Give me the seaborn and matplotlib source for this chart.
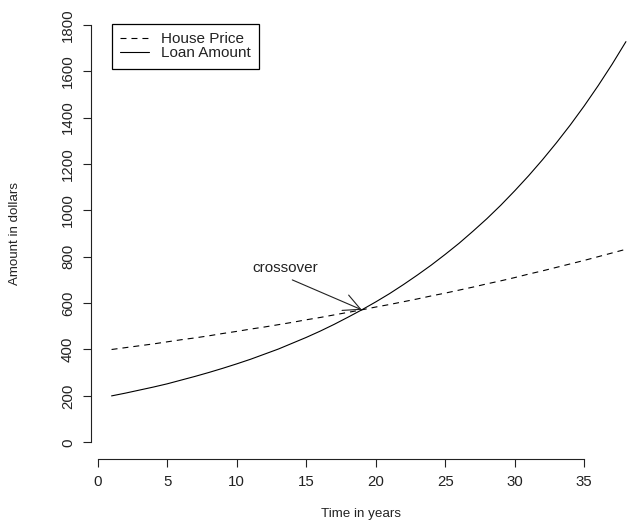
import matplotlib
matplotlib.use("Agg")
import matplotlib.pyplot as plt
import seaborn as sns
import pandas as pd
from matplotlib.lines import Line2D

years = list(range(1, 39))
house_price = [400, 408, 416, 424, 433, 442, 450, 459, 469, 478, 488, 497, 507, 517,
               528, 538, 549, 560, 571, 583, 594, 606, 618, 631, 643, 656, 669, 683,
               696, 710, 725, 739, 754, 769, 784, 800, 816, 832]
loan_amount = [200, 212, 225, 238, 252, 268, 284, 301, 319, 338, 358, 380, 402, 427,
               452, 479, 508, 539, 571, 605, 641, 680, 721, 764, 810, 858, 910, 964,
               1022, 1084, 1149, 1218, 1291, 1368, 1450, 1537, 1629, 1727]
series_names = ["House Price", "Loan Amount"]
x_ticks = [0, 5, 10, 15, 20, 25, 30, 35]
y_ticks = [0, 200, 400, 600, 800, 1000, 1200, 1400, 1600, 1800]

df = pd.DataFrame({
    "t": years * 2,
    "amount": house_price + loan_amount,
    "series": [series_names[0]] * len(years) + [series_names[1]] * len(years),
})

sns.set_theme(style="white")
plt.rcParams["font.family"] = ["Liberation Sans", "DejaVu Sans"]
plt.rcParams["lines.scale_dashes"] = False

fig = plt.figure(figsize=(6.39, 5.21), dpi=100)
ax = fig.add_axes([91 / 639, (521 - 459) / 521, 548 / 639, (459 - 8) / 521])

dash_style = (4.3, 3.6)
sns.lineplot(data=df, x="t", y="amount", style="series",
             dashes={series_names[0]: dash_style, series_names[1]: ""},
             color="black", linewidth=0.8, ax=ax, legend=False)

ax.set_xlim(-0.48, 38.94)
ax.set_ylim(-72, 1872)

for s in ["top", "right"]:
    ax.spines[s].set_visible(False)
ax.spines["left"].set_bounds(0, 1800)
ax.spines["bottom"].set_bounds(0, 35)
for s in ["left", "bottom"]:
    ax.spines[s].set_color("#222222")
    ax.spines[s].set_linewidth(0.8)

ax.set_xticks(x_ticks)
ax.set_yticks(y_ticks)
ax.set_xticklabels([str(v) for v in x_ticks])
ax.set_yticklabels([str(v) for v in y_ticks], rotation=90, va="center")
ax.tick_params(axis="both", direction="out", length=5.5, width=0.8, color="#222222",
               labelsize=10.8, labelcolor="#222222", bottom=True, left=True)
ax.tick_params(axis="x", pad=6)
ax.tick_params(axis="y", pad=6)

ax.set_xlabel("Time in years", fontsize=9.6, color="#222222")
ax.set_ylabel("Amount in dollars", fontsize=9.6, color="#222222")
ax.xaxis.set_label_coords((361 - 91) / 548, (459 - 514) / 451)
ax.yaxis.set_label_coords((15 - 91) / 548, 0.5)
ax.xaxis.label.set_va("center")
ax.yaxis.label.set_va("center")

ax.grid(False)

# annotation
ax.text(13.5, 750, "crossover", ha="center", va="center", fontsize=11, color="#222222")
ax.annotate("", xy=(19, 571), xytext=(14, 700),
            arrowprops=dict(arrowstyle="->,head_length=1.2,head_width=0.6",
                            mutation_scale=10, color="#222222", lw=0.8,
                            shrinkA=0, shrinkB=0))

handles = [Line2D([], [], color="black", lw=0.8, linestyle=(0, dash_style)),
           Line2D([], [], color="black", lw=0.8)]
leg = ax.legend(handles, series_names, loc="upper left",
                bbox_to_anchor=(112 / 639, 1 - 24 / 521), bbox_transform=fig.transFigure,
                fontsize=11, frameon=True, fancybox=False, framealpha=1,
                edgecolor="black", borderpad=0.55, labelspacing=0.0,
                handlelength=1.85, handletextpad=0.8, borderaxespad=0)
leg.get_frame().set_linewidth(0.9)
for t in leg.get_texts():
    t.set_color("#222222")

fig.savefig("out.png", dpi=100, facecolor="white")
